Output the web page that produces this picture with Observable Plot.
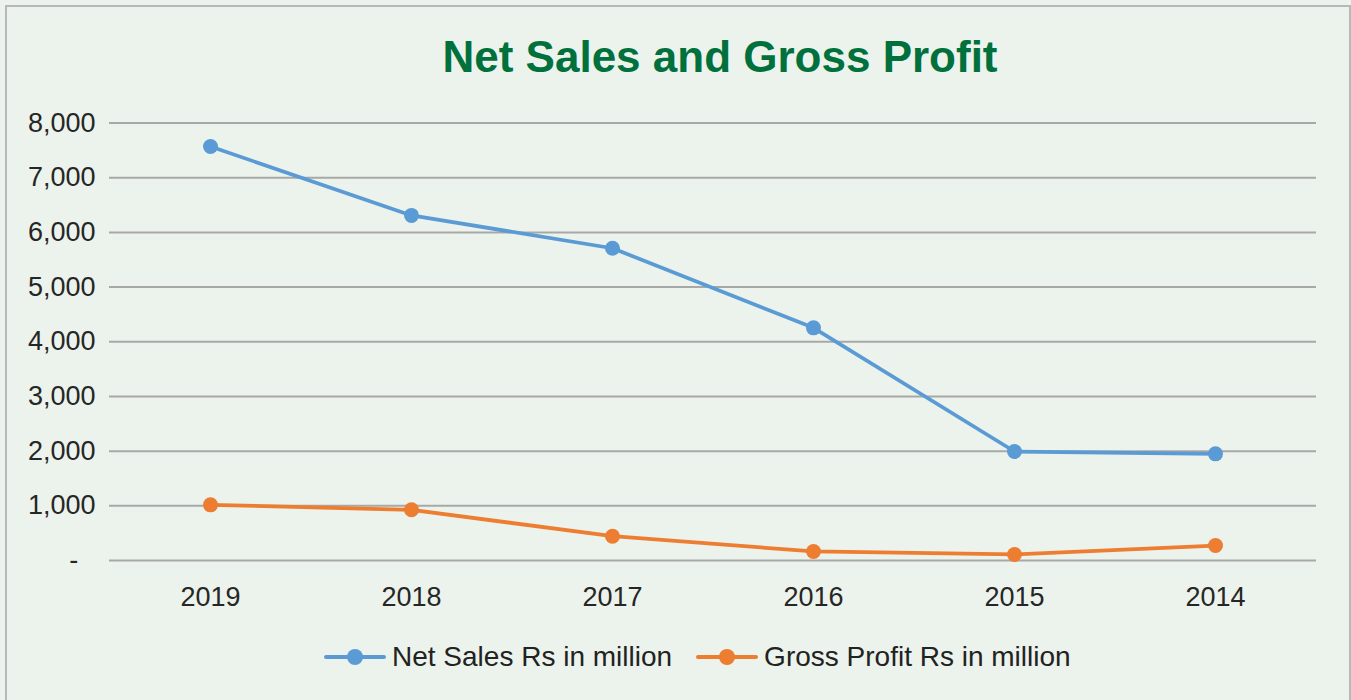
<!DOCTYPE html>
<html>
<head>
<meta charset="utf-8">
<script src="https://cdn.jsdelivr.net/npm/d3@7"></script>
<script src="https://cdn.jsdelivr.net/npm/@observablehq/plot@0.6"></script>
<style>
  html, body { margin: 0; padding: 0; background: #ecf3ec; }
  body { width: 1351px; height: 700px; overflow: hidden; position: relative;
         font-family: "Liberation Sans", Arial, sans-serif; }
  #frame { position: absolute; left: 5px; top: 5px; width: 1342px; height: 800px;
           border: 2px solid #b8b8b8; pointer-events: none; box-sizing: content-box; }
  #title { height: 65px; padding-top: 35px; padding-left: 89px; font-size: 44px; line-height: 44px;
           font-weight: bold; color: #00703c; text-align: center; box-sizing: content-box; }
  #chart svg { display: block; }
  #legend { display: flex; align-items: center; height: 32px; margin-top: 21px; padding-left: 324px;
            font-size: 28px; color: #222; }
  .item { display: flex; align-items: center; }
  .sw { position: relative; width: 62px; height: 16px; margin-right: 6px; }
  .sw .ln { position: absolute; left: 0; right: 0; top: 6px; height: 4px; border-radius: 2px; }
  .sw .dt { position: absolute; left: 23px; top: 0; width: 16px; height: 16px; border-radius: 50%; }
</style>
</head>
<body>
<div id="frame"></div>
<div id="title">Net Sales and Gross Profit</div>
<div id="chart"></div>
<div id="legend"></div>
<script>
const years = ["2019", "2018", "2017", "2016", "2015", "2014"];
const netSales = [7570, 6310, 5710, 4254, 1993, 1950];
const grossProfit = [1018, 927, 444, 165, 110, 274];
const yTicks = [0, 1000, 2000, 3000, 4000, 5000, 6000, 7000, 8000];
const seriesNames = ["Net Sales Rs in million", "Gross Profit Rs in million"];
const seriesColors = ["#5b9bd5", "#ed7d31"];

const netData = years.map((y, i) => ({year: y, value: netSales[i]}));
const grossData = years.map((y, i) => ({year: y, value: grossProfit[i]}));

const fmt = d3.format(",");
const chart = Plot.plot({
  width: 1351,
  height: 520,
  marginTop: 22.5,
  marginBottom: 60,
  marginLeft: 109,
  marginRight: 35,
  style: {background: "transparent", fontSize: "27px", fontFamily: "'Liberation Sans', Arial, sans-serif", color: "#262626"},
  x: {type: "point", domain: years, padding: 0.5, label: null},
  y: {domain: [0, 8000], label: null},
  marks: [
    Plot.ruleY(yTicks, {stroke: "#a8a8a8", strokeWidth: 2}),
    Plot.axisY({ticks: yTicks, tickSize: 0, tickPadding: 14, tickFormat: d => d === 0 ? "-\u2007\u200A" : fmt(d), label: null}),
    Plot.axisX({tickSize: 0, tickPadding: 26, label: null}),
    Plot.line(netData, {x: "year", y: "value", stroke: seriesColors[0], strokeWidth: 3.75}),
    Plot.dot(netData, {x: "year", y: "value", r: 7.5, fill: seriesColors[0]}),
    Plot.line(grossData, {x: "year", y: "value", stroke: seriesColors[1], strokeWidth: 3.75}),
    Plot.dot(grossData, {x: "year", y: "value", r: 7.5, fill: seriesColors[1]})
  ]
});
document.getElementById("chart").appendChild(chart);

const legend = document.getElementById("legend");
seriesNames.forEach((name, i) => {
  const item = document.createElement("div");
  item.className = "item";
  item.style.marginRight = i === 0 ? "24px" : "0";
  const sw = document.createElement("div");
  sw.className = "sw";
  const ln = document.createElement("div");
  ln.className = "ln"; ln.style.background = seriesColors[i];
  const dt = document.createElement("div");
  dt.className = "dt"; dt.style.background = seriesColors[i];
  sw.appendChild(ln); sw.appendChild(dt);
  const tx = document.createElement("span");
  tx.textContent = name;
  item.appendChild(sw); item.appendChild(tx);
  legend.appendChild(item);
});
</script>
</body>
</html>
